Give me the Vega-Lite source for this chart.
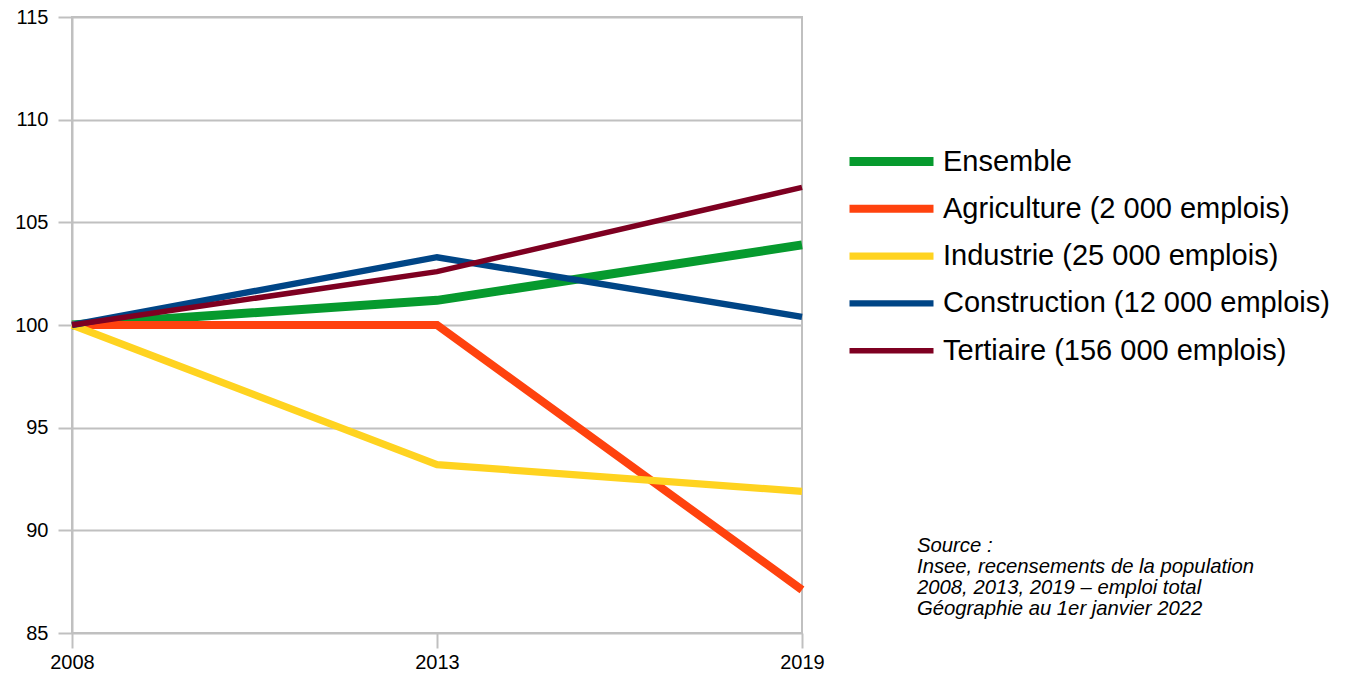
{
  "$schema": "https://vega.github.io/schema/vega-lite/v6.json",
  "width": 730,
  "height": 616,
  "autosize": {"type": "none"},
  "padding": {"left": 72, "top": 17, "right": 556, "bottom": 45},
  "background": "white",
  "title": {
    "text": ["Source :", "Insee, recensements de la population", "2008, 2013, 2019 – emploi total", "Géographie au 1er janvier 2022"],
    "orient": "top",
    "anchor": "start",
    "frame": "group",
    "baseline": "top",
    "offset": 0,
    "dx": 845,
    "dy": 612,
    "font": "Liberation Sans",
    "fontSize": 20.3,
    "fontStyle": "italic",
    "fontWeight": "normal",
    "color": "#000000",
    "lineHeight": 20.8
  },
  "config": {
    "view": {"stroke": "#c0c0c0", "strokeWidth": 2},
    "axis": {
      "labelFont": "Liberation Sans",
      "labelFontSize": 20,
      "labelColor": "#000000",
      "gridColor": "#c0c0c0",
      "gridWidth": 2,
      "domainColor": "#c0c0c0",
      "domainWidth": 2,
      "tickColor": "#c0c0c0",
      "tickWidth": 2,
      "title": null
    }
  },
  "data": {
    "values": [
      {"annee": "2008", "serie": "Ensemble", "indice": 100},
      {"annee": "2013", "serie": "Ensemble", "indice": 101.2},
      {"annee": "2019", "serie": "Ensemble", "indice": 103.9},
      {"annee": "2008", "serie": "Agriculture (2 000 emplois)", "indice": 100},
      {"annee": "2013", "serie": "Agriculture (2 000 emplois)", "indice": 100},
      {"annee": "2019", "serie": "Agriculture (2 000 emplois)", "indice": 87.1},
      {"annee": "2008", "serie": "Industrie (25 000 emplois)", "indice": 100},
      {"annee": "2013", "serie": "Industrie (25 000 emplois)", "indice": 93.2},
      {"annee": "2019", "serie": "Industrie (25 000 emplois)", "indice": 91.9},
      {"annee": "2008", "serie": "Construction (12 000 emplois)", "indice": 100},
      {"annee": "2013", "serie": "Construction (12 000 emplois)", "indice": 103.3},
      {"annee": "2019", "serie": "Construction (12 000 emplois)", "indice": 100.4},
      {"annee": "2008", "serie": "Tertiaire (156 000 emplois)", "indice": 100},
      {"annee": "2013", "serie": "Tertiaire (156 000 emplois)", "indice": 102.6},
      {"annee": "2019", "serie": "Tertiaire (156 000 emplois)", "indice": 106.7}
    ]
  },
  "mark": {"type": "line", "strokeCap": "butt", "strokeJoin": "miter"},
  "encoding": {
    "x": {
      "field": "annee",
      "type": "ordinal",
      "scale": {"type": "point", "padding": 0},
      "axis": {"labelAngle": 0, "tickSize": 15, "labelPadding": 4, "grid": false, "domain": false, "labelBaseline": "top"}
    },
    "y": {
      "field": "indice",
      "type": "quantitative",
      "scale": {"domain": [85, 115], "nice": false, "zero": false},
      "axis": {"values": [85, 90, 95, 100, 105, 110, 115], "tickSize": 14, "labelPadding": 10, "grid": true}
    },
    "color": {
      "field": "serie",
      "type": "nominal",
      "sort": ["Ensemble", "Agriculture (2 000 emplois)", "Industrie (25 000 emplois)", "Construction (12 000 emplois)", "Tertiaire (156 000 emplois)"],
      "scale": {
        "domain": ["Ensemble", "Agriculture (2 000 emplois)", "Industrie (25 000 emplois)", "Construction (12 000 emplois)", "Tertiaire (156 000 emplois)"],
        "range": ["#069a2e", "#ff420e", "#ffd320", "#004586", "#7e0021"]
      },
      "legend": {
        "title": null,
        "orient": "none",
        "legendX": 773,
        "legendY": 130.5,
        "padding": 0,
        "symbolType": "stroke",
        "symbolSize": 7056,
        "symbolStrokeWidth": 6,
        "clipHeight": 28,
        "rowPadding": 18.3,
        "labelOffset": 5,
        "labelFont": "Liberation Sans",
        "labelFontSize": 29,
        "labelColor": "#000000",
        "labelLimit": 600,
        "encode": {
          "symbols": {
            "update": {
              "strokeWidth": {"signal": "datum.value === 'Ensemble' ? 8 : 5.5"}
            }
          }
        }
      }
    },
    "strokeWidth": {
      "field": "serie",
      "type": "nominal",
      "sort": ["Ensemble", "Agriculture (2 000 emplois)", "Industrie (25 000 emplois)", "Construction (12 000 emplois)", "Tertiaire (156 000 emplois)"],
      "scale": {
        "domain": ["Ensemble", "Agriculture (2 000 emplois)", "Industrie (25 000 emplois)", "Construction (12 000 emplois)", "Tertiaire (156 000 emplois)"],
        "range": [9, 5.5, 5.5, 5.5, 5.5]
      },
      "legend": null
    }
  }
}
